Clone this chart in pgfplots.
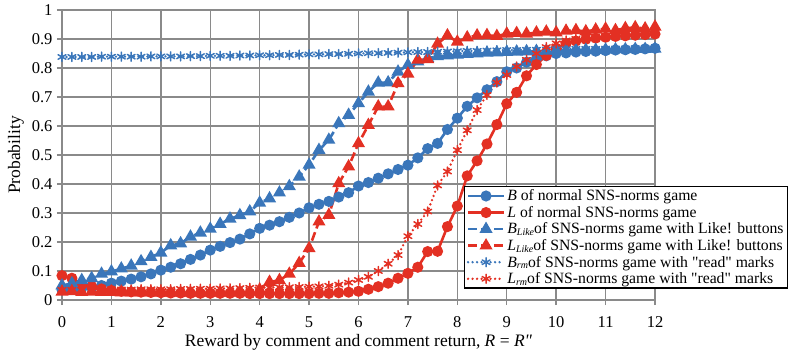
\documentclass[border=0pt]{standalone}
\usepackage{fontspec}
\setmainfont{Liberation Serif}[Ligatures=TeXOff]
\usepackage{pgfplots}
\usepackage{pgfplotstable}
\pgfplotsset{compat=1.18}
\definecolor{cblue}{RGB}{58,118,186}
\definecolor{cred}{RGB}{227,48,35}
\definecolor{cgrid}{RGB}{138,138,138}

% Probabilities against reward R = R'' (step 0.2)
% B, L: normal game; BL, LL: Like! buttons; Brm, Lrm: "read" marks
\pgfplotstableread{
x B L BL LL Brm Lrm
0.0 0.035 0.084 0.050 0.028 0.838 0.035
0.2 0.037 0.075 0.057 0.030 0.838 0.035
0.4 0.040 0.055 0.068 0.027 0.838 0.035
0.6 0.043 0.047 0.075 0.028 0.838 0.036
0.8 0.050 0.038 0.090 0.027 0.839 0.036
1.0 0.058 0.033 0.098 0.027 0.839 0.036
1.2 0.065 0.030 0.108 0.026 0.839 0.036
1.4 0.072 0.028 0.118 0.026 0.839 0.036
1.6 0.080 0.027 0.133 0.026 0.839 0.037
1.8 0.090 0.026 0.148 0.026 0.840 0.037
2.0 0.103 0.025 0.163 0.025 0.840 0.037
2.2 0.113 0.024 0.188 0.025 0.840 0.037
2.4 0.125 0.024 0.195 0.025 0.840 0.038
2.6 0.140 0.023 0.218 0.025 0.841 0.038
2.8 0.155 0.023 0.232 0.025 0.841 0.039
3.0 0.172 0.023 0.245 0.025 0.842 0.039
3.2 0.185 0.023 0.262 0.025 0.842 0.040
3.4 0.198 0.023 0.280 0.025 0.842 0.040
3.6 0.210 0.023 0.292 0.026 0.843 0.041
3.8 0.228 0.022 0.305 0.028 0.843 0.042
4.0 0.247 0.022 0.335 0.035 0.844 0.043
4.2 0.258 0.022 0.350 0.062 0.844 0.043
4.4 0.270 0.022 0.370 0.068 0.845 0.044
4.6 0.285 0.022 0.392 0.090 0.845 0.044
4.8 0.300 0.022 0.425 0.127 0.846 0.045
5.0 0.318 0.022 0.466 0.178 0.847 0.046
5.2 0.330 0.023 0.517 0.270 0.847 0.047
5.4 0.340 0.023 0.552 0.293 0.848 0.049
5.6 0.355 0.025 0.609 0.402 0.848 0.053
5.8 0.370 0.027 0.638 0.460 0.849 0.060
6.0 0.393 0.030 0.678 0.540 0.850 0.069
6.2 0.405 0.037 0.718 0.603 0.851 0.080
6.4 0.420 0.046 0.749 0.667 0.851 0.100
6.6 0.435 0.058 0.750 0.667 0.852 0.125
6.8 0.450 0.075 0.787 0.747 0.853 0.155
7.0 0.465 0.092 0.810 0.780 0.854 0.220
7.2 0.490 0.113 0.822 0.828 0.855 0.262
7.4 0.522 0.167 0.834 0.830 0.855 0.305
7.6 0.540 0.168 0.840 0.883 0.856 0.395
7.8 0.588 0.253 0.843 0.912 0.857 0.443
8.0 0.627 0.324 0.845 0.890 0.858 0.517
8.2 0.668 0.428 0.848 0.905 0.859 0.585
8.4 0.697 0.480 0.850 0.912 0.859 0.655
8.6 0.725 0.538 0.852 0.913 0.860 0.707
8.8 0.753 0.605 0.853 0.910 0.861 0.750
9.0 0.787 0.677 0.855 0.918 0.862 0.776
9.2 0.800 0.716 0.856 0.920 0.862 0.805
9.4 0.820 0.773 0.857 0.918 0.863 0.828
9.6 0.832 0.812 0.858 0.922 0.863 0.850
9.8 0.842 0.843 0.859 0.925 0.864 0.872
10.0 0.850 0.868 0.860 0.922 0.865 0.885
10.2 0.852 0.884 0.860 0.928 0.865 0.895
10.4 0.855 0.893 0.861 0.930 0.866 0.900
10.6 0.857 0.899 0.862 0.926 0.866 0.905
10.8 0.858 0.903 0.862 0.932 0.866 0.908
11.0 0.860 0.906 0.863 0.935 0.867 0.910
11.2 0.862 0.909 0.864 0.930 0.867 0.913
11.4 0.863 0.911 0.864 0.937 0.867 0.916
11.6 0.864 0.913 0.865 0.940 0.868 0.918
11.8 0.866 0.915 0.865 0.936 0.868 0.920
12.0 0.868 0.917 0.866 0.942 0.868 0.922
}\datatable

\newcommand{\sub}[1]{\raisebox{-0.25ex}{\fontsize{10}{10}\selectfont\textit{#1}}}

\begin{document}
\begin{tikzpicture}
\begin{axis}[
  name=ax,
  scale only axis, width=593pt, height=290pt,
  xmin=0, xmax=12, ymin=0, ymax=1,
  clip=false,
  xtick={0,1,2,3,4,5,6,7,8,9,10,11,12},
  xticklabels={0,1,2,3,4,5,6,7,8,9,10,11,12},
  ytick={0,0.1,0.2,0.3,0.4,0.5,0.6,0.7,0.8,0.9,1},
  yticklabels={0,0.1,0.2,0.3,0.4,0.5,0.6,0.7,0.8,0.9,1},
  grid=major,
  major grid style={cgrid, line width=1.4pt},
  axis line style={cgrid, line width=1.4pt},
  tick style={cgrid, line width=1.4pt},
  tick align=outside, tick pos=left, major tick length=5pt,
  ticklabel style={font=\fontsize{16.5}{18}\selectfont},
  xticklabel style={yshift=-8pt},
  yticklabel style={xshift=-1pt},
  label style={font=\fontsize{17.5}{19}\selectfont},
  xlabel={Reward by comment and comment return, \textit{R} = \textit{R"}},
  ylabel={Probability},
  ylabel style={yshift=1pt},
  legend style={at={(0.678,0.393)}, anchor=north west, draw=black,
    line width=1.4pt, fill=white, font=\fontsize{15.7}{18.3}\selectfont,
    inner xsep=2pt, inner ysep=1pt, row sep=0pt},
  legend cell align=left,
  legend image code/.code={\draw[mark repeat=2,mark phase=2,#1]
    plot coordinates {(0pt,0pt) (18pt,0pt) (36pt,0pt)};},
]
\addplot[cblue, line width=2.6pt, mark=*, mark size=4.2pt, mark options={solid}]
  table[x=x, y=B]{\datatable};
\addlegendentry{\textit{B} of normal SNS-norms game}
\addplot[cred, line width=2.6pt, mark=*, mark size=4.2pt, mark options={solid}]
  table[x=x, y=L]{\datatable};
\addlegendentry{\textit{L} of normal SNS-norms game}
\addplot[cblue, line width=2.6pt, dash pattern=on 9pt off 4pt, mark=triangle*, mark size=5pt, mark options={solid}]
  table[x=x, y=BL]{\datatable};
\addlegendentry{\textit{B}\sub{Like}of SNS-norms game with Like! buttons}
\addplot[cred, line width=2.6pt, dash pattern=on 9pt off 4pt, mark=triangle*, mark size=5pt, mark options={solid}]
  table[x=x, y=LL]{\datatable};
\addlegendentry{\textit{L}\sub{Like}of SNS-norms game with Like! buttons}
\addplot[cblue, line width=2.6pt, line cap=round, dash pattern=on 0pt off 4.5pt, mark=asterisk, mark size=4.5pt, mark options={solid, line width=1.5pt}]
  table[x=x, y=Brm]{\datatable};
\addlegendentry{\textit{B}\sub{rm}of SNS-norms game with "read" marks}
\addplot[cred, line width=2.6pt, line cap=round, dash pattern=on 0pt off 4.5pt, mark=asterisk, mark size=4.5pt, mark options={solid, line width=1.5pt}]
  table[x=x, y=Lrm]{\datatable};
\addlegendentry{\textit{L}\sub{rm}of SNS-norms game with "read" marks}
\end{axis}
\pgfresetboundingbox
\path ([shift={(-62pt,-59pt)}]ax.south west) rectangle ([shift={(141pt,10pt)}]ax.north east);
\end{tikzpicture}
\end{document}
